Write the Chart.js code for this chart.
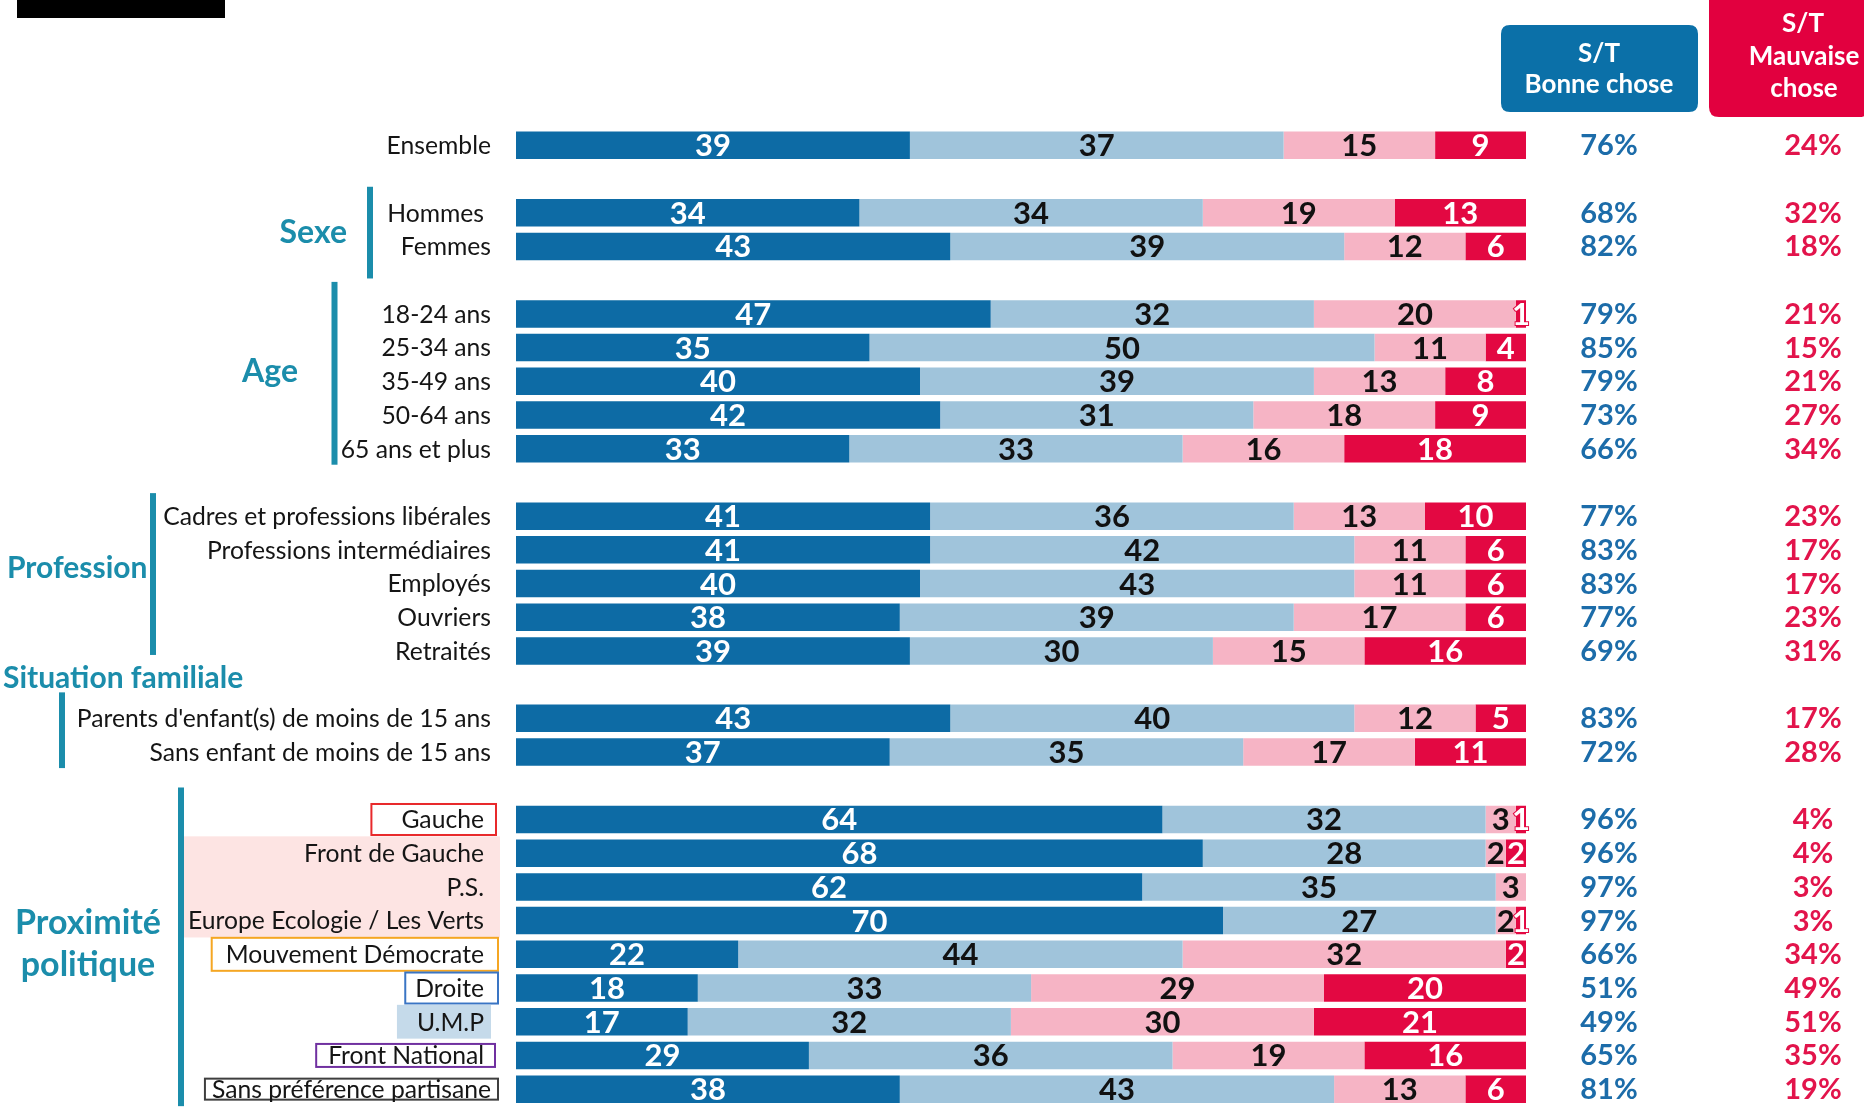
<!DOCTYPE html>
<html><head><meta charset="utf-8">
<script src="https://cdn.jsdelivr.net/npm/chart.js@4.4.0/dist/chart.umd.min.js"></script>
<style>html,body{margin:0;padding:0;background:#fff;overflow:hidden}canvas{display:block}</style>
</head><body>
<canvas id="c" width="1864" height="1109"></canvas>
<script>
// ---------- DATA ----------
const categories = [
  'Ensemble', '',
  'Hommes', 'Femmes', '',
  '18-24 ans', '25-34 ans', '35-49 ans', '50-64 ans', '65 ans et plus', '',
  'Cadres et professions libérales', 'Professions intermédiaires', 'Employés', 'Ouvriers', 'Retraités', '',
  "Parents d'enfant(s) de moins de 15 ans", 'Sans enfant de moins de 15 ans', '',
  'Gauche', 'Front de Gauche', 'P.S.', 'Europe Ecologie / Les Verts', 'Mouvement Démocrate',
  'Droite', 'U.M.P', 'Front National', 'Sans préférence partisane'
];
const seriesNames = ['Très bonne chose', 'Plutôt une bonne chose', 'Plutôt une mauvaise chose', 'Très mauvaise chose'];
const tresBonne    = [39,null, 34,43,null, 47,35,40,42,33,null, 41,41,40,38,39,null, 43,37,null, 64,68,62,70,22,18,17,29,38];
const plutotBonne  = [37,null, 34,39,null, 32,50,39,31,33,null, 36,42,43,39,30,null, 40,35,null, 32,28,35,27,44,33,32,36,43];
const plutotMauv   = [15,null, 19,12,null, 20,11,13,18,16,null, 13,11,11,17,15,null, 12,17,null,  3, 2, 3, 2,32,29,30,19,13];
const tresMauv     = [ 9,null, 13, 6,null,  1, 4, 8, 9,18,null, 10, 6, 6, 6,16,null,  5,11,null,  1, 2, 0, 1, 2,20,21,16, 6];
const stBonne      = [76,null, 68,82,null, 79,85,79,73,66,null, 77,83,83,77,69,null, 83,72,null, 96,96,97,97,66,51,49,65,81];
const stMauvaise   = [24,null, 32,18,null, 21,15,21,27,34,null, 23,17,17,23,31,null, 17,28,null,  4, 4, 3, 3,34,49,51,35,19];
const headerBonne  = ['S/T', 'Bonne chose'];
const headerMauv   = ['S/T', 'Mauvaise', 'chose'];
const groupTitles  = ['Sexe', 'Age', 'Profession', 'Situation familiale', 'Proximité politique'];

// ---------- STYLE ----------
const COLORS = ['#0D6BA5', '#A0C4DB', '#F6B4C5', '#E30842'];
const LABEL_COLORS = ['#ffffff', '#111111', '#111111', '#ffffff'];
const TEAL = '#1B8DAB';
const FONT = 'Lato, "Open Sans", sans-serif';
const CAT_FONT = '24.7px ' + FONT;
const politicalSet = new Set(categories.slice(20));
const labelRight = (lab) => (lab === 'Hommes' || (politicalSet.has(lab) && lab !== 'Sans préférence partisane')) ? 484 : 491;
const boxStyles = {
  'Gauche':                    {type:'stroke', color:'#E8292B', padL:30, padR:12, half:15.5},
  'Mouvement Démocrate':       {type:'stroke', color:'#F5A623', padL:14, padR:14, half:16.5},
  'Droite':                    {type:'stroke', color:'#3A75C4', padL:10, padR:14, half:15.5},
  'U.M.P':                     {type:'fill',   color:'#C5DAEA', padL:20, padR:7,  half:16.9},
  'Front National':            {type:'stroke', color:'#7030A0', padL:12, padR:11, half:11.5},
  'Sans préférence partisane': {type:'stroke', color:'#3F3F3F', padL:7,  padR:7,  half:10.5}
};
const pinkGroup = ['Front de Gauche', 'P.S.', 'Europe Ecologie / Les Verts'];

function roundRect(ctx, x, y, w, h, r) {
  ctx.beginPath();
  ctx.moveTo(x + r, y);
  ctx.lineTo(x + w - r, y); ctx.quadraticCurveTo(x + w, y, x + w, y + r);
  ctx.lineTo(x + w, y + h - r); ctx.quadraticCurveTo(x + w, y + h, x + w - r, y + h);
  ctx.lineTo(x + r, y + h); ctx.quadraticCurveTo(x, y + h, x, y + h - r);
  ctx.lineTo(x, y + r); ctx.quadraticCurveTo(x, y, x + r, y);
  ctx.closePath();
}

const decor = {
  id: 'decor',
  beforeDraw(chart) {
    const ctx = chart.ctx, ys = chart.scales.y;
    const slot = ys.getPixelForValue(1) - ys.getPixelForValue(0);
    ctx.save();
    ctx.font = CAT_FONT;
    let minLeft = Infinity;
    pinkGroup.forEach(l => { minLeft = Math.min(minLeft, labelRight(l) - ctx.measureText(l).width); });
    const i0 = categories.indexOf(pinkGroup[0]), i1 = categories.indexOf(pinkGroup[pinkGroup.length - 1]);
    const top = ys.getPixelForValue(i0) - slot / 2, bot = ys.getPixelForValue(i1) + slot / 2;
    ctx.fillStyle = '#FDE4E3';
    ctx.fillRect(minLeft - 9, top, 500 - (minLeft - 9), bot - top);
    Object.keys(boxStyles).forEach(l => {
      const s = boxStyles[l], i = categories.indexOf(l), yc = ys.getPixelForValue(i);
      const r = labelRight(l), w = ctx.measureText(l).width;
      const x0 = r - w - s.padL, x1 = r + s.padR;
      if (s.type === 'fill') { ctx.fillStyle = s.color; ctx.fillRect(x0, yc - s.half, x1 - x0, 2 * s.half); }
      else { ctx.strokeStyle = s.color; ctx.lineWidth = 2; ctx.strokeRect(x0, yc - s.half, x1 - x0, 2 * s.half); }
    });
    ctx.fillStyle = '#000'; ctx.fillRect(17, 0, 208, 18);
    ctx.restore();
  },
  afterDatasetsDraw(chart) {
    const ctx = chart.ctx;
    ctx.save();
    ctx.font = 'bold 31px ' + FONT;
    ctx.textAlign = 'center';
    ctx.textBaseline = 'alphabetic';
    chart.data.datasets.forEach((ds, di) => {
      const meta = chart.getDatasetMeta(di);
      meta.data.forEach((bar, i) => {
        const v = ds.data[i];
        if (v === null || v === 0) return;
        const cx = (bar.x + bar.base) / 2, cy = bar.y + 11;
        if (di === 3 && v <= 1) { ctx.lineWidth = 2; ctx.strokeStyle = COLORS[3]; ctx.strokeText(String(v), cx, cy); }
        ctx.fillStyle = LABEL_COLORS[di];
        ctx.fillText(String(v), cx, cy);
      });
    });
    ctx.restore();
  },
  afterDraw(chart) {
    const ctx = chart.ctx, ys = chart.scales.y;
    ctx.save();
    ctx.font = CAT_FONT; ctx.fillStyle = '#151515'; ctx.textAlign = 'right'; ctx.textBaseline = 'alphabetic';
    categories.forEach((l, i) => { if (l) ctx.fillText(l, labelRight(l), ys.getPixelForValue(i) + 8.8); });
    ctx.font = 'bold 29px ' + FONT; ctx.textAlign = 'center';
    categories.forEach((l, i) => {
      if (stBonne[i] === null) return;
      const y = ys.getPixelForValue(i) + 10;
      ctx.fillStyle = '#1C6CA9'; ctx.fillText(stBonne[i] + '%', 1609, y);
      ctx.fillStyle = '#E2144B'; ctx.fillText(stMauvaise[i] + '%', 1813, y);
    });
    ctx.fillStyle = '#0B70A8'; roundRect(ctx, 1501, 25, 197, 87, 9); ctx.fill();
    ctx.fillStyle = '#E2003F'; roundRect(ctx, 1709, -12, 160, 129, 10); ctx.fill();
    ctx.fillStyle = '#fff'; ctx.font = 'bold 26px ' + FONT; ctx.textAlign = 'center';
    ctx.fillText(headerBonne[0], 1599, 62); ctx.fillText(headerBonne[1], 1599, 93);
    ctx.fillText(headerMauv[0], 1803, 32); ctx.fillText(headerMauv[1], 1804, 65); ctx.fillText(headerMauv[2], 1804, 97);
    const py = i => ys.getPixelForValue(i);
    ctx.fillStyle = TEAL;
    const lines = [[370, py(2) - 26, py(3) + 32], [334.5, py(5) - 32, py(9) + 16], [153, py(11) - 23, py(15) + 4],
                   [62, py(17) - 26, py(18) + 16], [181, py(20) - 32, py(28) + 17]];
    lines.forEach(([x, a, b]) => ctx.fillRect(x - 3, a, 6, b - a));
    ctx.fillStyle = TEAL; ctx.textBaseline = 'alphabetic';
    ctx.font = 'bold 32px ' + FONT; ctx.textAlign = 'right';
    ctx.fillText(groupTitles[0], 347, 243);
    ctx.fillText(groupTitles[1], 298, 382);
    ctx.font = 'bold 30px ' + FONT; ctx.textAlign = 'left';
    ctx.fillText(groupTitles[2], 7, 578);
    ctx.fillText(groupTitles[3], 3, 688);
    ctx.font = 'bold 34px ' + FONT; ctx.textAlign = 'center';
    const pp = groupTitles[4].split(' ');
    ctx.fillText(pp[0], 88, 934);
    ctx.fillText(pp[1], 88, 976);
    ctx.restore();
  }
};

function build() {
  new Chart(document.getElementById('c'), {
    type: 'bar',
    data: {
      labels: categories,
      datasets: [tresBonne, plutotBonne, plutotMauv, tresMauv].map((d, i) => ({
        label: seriesNames[i], data: d, backgroundColor: COLORS[i], borderWidth: 0,
        barPercentage: 0.816, categoryPercentage: 1
      }))
    },
    options: {
      indexAxis: 'y', responsive: false, animation: false, devicePixelRatio: 1,
      layout: { padding: { left: 516, right: 338, top: 128.5, bottom: 3 } },
      scales: {
        x: { stacked: true, min: 0, max: 100, display: false },
        y: { stacked: true, display: false }
      },
      plugins: { legend: { display: false }, tooltip: { enabled: false } }
    },
    plugins: [decor]
  });
}
if (document.fonts && document.fonts.load) {
  Promise.all([document.fonts.load('24px Lato'), document.fonts.load('bold 24px Lato')]).then(build, build);
} else build();
</script>
</body></html>
